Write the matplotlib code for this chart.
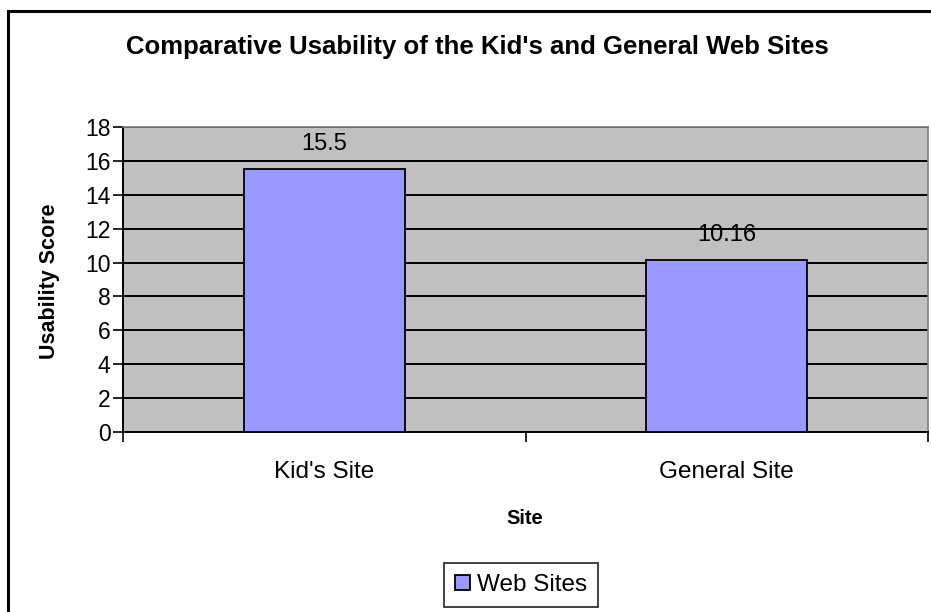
import matplotlib.pyplot as plt
from matplotlib.patches import Rectangle

plt.rcParams['font.family'] = ['Liberation Sans', 'DejaVu Sans']

sites = ["Kid's Site", "General Site"]
scores = [15.5, 10.16]
score_labels = ['15.5', '10.16']
series_name = 'Web Sites'

fig = plt.figure(figsize=(9.31, 6.12), dpi=100)
W, H = 931.0, 612.0

# outer chart border (only left and top visible in the image)
fig.add_artist(Rectangle((8 / W, -0.05), 1.1, 1 - 11 / H + 0.05, transform=fig.transFigure,
                         fill=False, edgecolor='black', linewidth=2.2))

ax = fig.add_axes([123 / W, 1 - 432 / H, 805 / W, 305 / H])
ax.set_facecolor('#C0C0C0')
x = [i + 0.5 for i in range(len(sites))]
bars = ax.bar(x, scores, width=0.4, color='#9999FF', edgecolor='black', linewidth=1.3,
              zorder=3, label=series_name)
ax.set_xlim(0, len(sites))
ax.set_ylim(0, 18)
ax.set_yticks(range(0, 19, 2))
ax.yaxis.grid(True, color='black', linewidth=1.4, zorder=0)
ax.set_axisbelow(True)

ax.set_xticks(range(len(sites) + 1))
ax.set_xticklabels([])
ax.set_xticks(x, minor=True)
ax.set_xticklabels(sites, minor=True, fontsize=17.5)
ax.tick_params(axis='x', which='minor', length=0, pad=21)
ax.tick_params(axis='x', which='major', length=7, width=1.2, direction='out')
ax.tick_params(axis='y', length=7, width=1.2, direction='out', labelsize=16.5, pad=2)

for s in ['left', 'bottom']:
    ax.spines[s].set_linewidth(1.4)
    ax.spines[s].set_color('black')
for s in ['top', 'right']:
    ax.spines[s].set_linewidth(1.2)
    ax.spines[s].set_color('#808080')

for xi, v, lab in zip(x, scores, score_labels):
    ax.annotate(lab, (xi, v), xytext=(0, 10), textcoords='offset points',
                ha='center', va='bottom', fontsize=17)

fig.text(50 / W, 1 - 281 / H, 'Usability Score', rotation=90, ha='center', va='center',
         fontsize=15.5, fontweight='bold')
fig.text(525 / W, 1 - 518 / H, 'Site', ha='center', va='center',
         fontsize=14.5, fontweight='bold')

fig.text(477 / W, 1 - 47 / H, "Comparative Usability of the Kid's and General Web Sites",
         ha='center', va='center', fontsize=18.5, fontweight='bold')

leg = fig.legend(loc='center', bbox_to_anchor=(521 / W, 1 - 585 / H), fontsize=17.5,
                 frameon=True, fancybox=False, edgecolor='black', borderpad=0.45,
                 handlelength=0.6, handleheight=0.6, handletextpad=0.3)
leg.get_frame().set_linewidth(1.3)

fig.savefig('out.png', dpi=100)
